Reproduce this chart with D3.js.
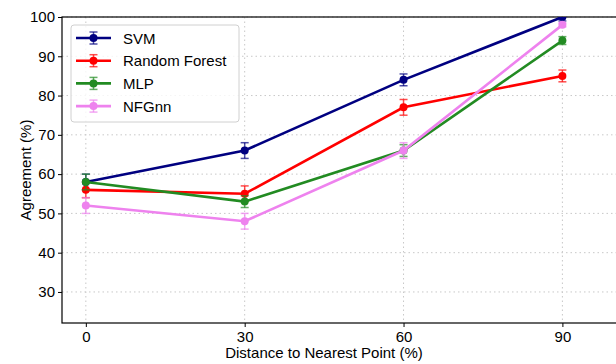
<!DOCTYPE html>
<html>
<head>
<meta charset="utf-8">
<script src="https://cdn.jsdelivr.net/npm/d3@7"></script>
<style>
  body { margin: 0; background: #fff; }
  svg { font-family: "Liberation Sans", Arial, sans-serif; }
</style>
</head>
<body>
<div id="chart"></div>
<script>
const distances = [0, 30, 60, 90];
const xTicks = [0, 30, 60, 90];
const yTicks = [30, 40, 50, 60, 70, 80, 90, 100];

const seriesNames = ["SVM", "Random Forest", "MLP", "NFGnn"];
const seriesColors = ["#000080", "#ff0000", "#228b22", "#ee82ee"];
const svmValues = [58, 66, 84, 100];
const svmErrors = [2, 2, 1.5, 1];
const rfValues = [56, 55, 77, 85];
const rfErrors = [2, 2, 2, 1.5];
const mlpValues = [58, 53, 66, 94];
const mlpErrors = [2, 1.5, 1.5, 1];
const nfgnnValues = [52, 48, 66, 98];
const nfgnnErrors = [2, 2, 2, 0.5];

const series = [
  { name: seriesNames[0], color: seriesColors[0], values: svmValues, errors: svmErrors },
  { name: seriesNames[1], color: seriesColors[1], values: rfValues, errors: rfErrors },
  { name: seriesNames[2], color: seriesColors[2], values: mlpValues, errors: mlpErrors },
  { name: seriesNames[3], color: seriesColors[3], values: nfgnnValues, errors: nfgnnErrors }
];

const W = 616, H = 364;
const pLeft = 62, pRight = 618, pTop = 17, pBottom = 323;

const svg = d3.select("#chart").append("svg")
  .attr("width", W).attr("height", H);

const x = d3.scaleLinear().domain([-4.5, 100.5]).range([pLeft, pRight]);
const y = d3.scaleLinear().domain([22.1, 100]).range([pBottom, pTop]);

svg.append("defs").append("clipPath").attr("id", "clip")
  .append("rect").attr("x", pLeft).attr("y", pTop)
  .attr("width", pRight - pLeft).attr("height", pBottom - pTop);

// grid
const grid = svg.append("g");
grid.selectAll(".gx").data(xTicks).enter().append("line")
  .attr("x1", d => x(d)).attr("x2", d => x(d))
  .attr("y1", pTop).attr("y2", pBottom)
  .attr("stroke", "#c8c8c8").attr("stroke-width", 1).attr("stroke-dasharray", "1.5,3");
grid.selectAll(".gy").data(yTicks).enter().append("line")
  .attr("x1", pLeft).attr("x2", pRight)
  .attr("y1", d => y(d)).attr("y2", d => y(d))
  .attr("stroke", "#c8c8c8").attr("stroke-width", 1).attr("stroke-dasharray", "1.5,3");

// axes
const xAxis = svg.append("g")
  .attr("transform", `translate(0,${pBottom})`)
  .call(d3.axisBottom(x).tickValues(xTicks).tickSize(4).tickPadding(4));
const yAxis = svg.append("g")
  .attr("transform", `translate(${pLeft},0)`)
  .call(d3.axisLeft(y).tickValues(yTicks).tickSize(4).tickPadding(3));
[xAxis, yAxis].forEach(a => {
  a.select(".domain").remove();
  a.selectAll("text").style("font-size", "15px").attr("fill", "#000")
    .style("font-family", "'Liberation Sans', Arial, sans-serif");
  a.selectAll("line").attr("stroke", "#000");
});

svg.append("rect")
  .attr("x", pLeft).attr("y", pTop)
  .attr("width", pRight - pLeft).attr("height", pBottom - pTop)
  .attr("fill", "none").attr("stroke", "#000").attr("stroke-width", 1.2);

// series
const plot = svg.append("g").attr("clip-path", "url(#clip)");
const line = d3.line().x((d, i) => x(distances[i])).y(d => y(d));

series.forEach(s => {
  const g = plot.append("g");
  g.append("path").datum(s.values)
    .attr("d", line).attr("fill", "none")
    .attr("stroke", s.color).attr("stroke-width", 2.6);
  const eb = g.append("g").attr("stroke", s.color).attr("stroke-opacity", 0.7).attr("stroke-width", 1.5);
  s.values.forEach((v, i) => {
    const cx = x(distances[i]);
    eb.append("line").attr("x1", cx).attr("x2", cx)
      .attr("y1", y(v - s.errors[i])).attr("y2", y(v + s.errors[i]));
    [v - s.errors[i], v + s.errors[i]].forEach(e => {
      eb.append("line").attr("x1", cx - 4).attr("x2", cx + 4)
        .attr("y1", y(e)).attr("y2", y(e));
    });
  });
  g.selectAll("circle").data(s.values).enter().append("circle")
    .attr("cx", (d, i) => x(distances[i])).attr("cy", d => y(d))
    .attr("r", 4).attr("fill", s.color);
});

// labels
svg.append("text")
  .attr("x", 324).attr("y", 358)
  .attr("text-anchor", "middle").style("font-size", "15px")
  .text("Distance to Nearest Point (%)");
svg.append("text")
  .attr("transform", `translate(30.5,${(pTop + pBottom) / 2}) rotate(-90)`)
  .attr("text-anchor", "middle").style("font-size", "15px")
  .text("Agreement (%)");

// legend
const legend = svg.append("g").attr("transform", "translate(71,25)");
legend.append("rect")
  .attr("width", 168).attr("height", 97).attr("rx", 3)
  .attr("fill", "#fff").attr("fill-opacity", 0.8)
  .attr("stroke", "#d0d0d0").attr("stroke-width", 1);
series.forEach((s, i) => {
  const ly = 13 + i * 22.7;
  const row = legend.append("g").attr("transform", `translate(0,${ly})`);
  row.append("line").attr("x1", 5).attr("x2", 40).attr("y1", 0).attr("y2", 0)
    .attr("stroke", s.color).attr("stroke-width", 2.6);
  row.append("line").attr("x1", 22.5).attr("x2", 22.5).attr("y1", -6).attr("y2", 6)
    .attr("stroke", s.color).attr("stroke-opacity", 0.7).attr("stroke-width", 1.5);
  [-6, 6].forEach(e => row.append("line").attr("x1", 18.5).attr("x2", 26.5)
    .attr("y1", e).attr("y2", e)
    .attr("stroke", s.color).attr("stroke-opacity", 0.7).attr("stroke-width", 1.5));
  row.append("circle").attr("cx", 22.5).attr("cy", 0).attr("r", 4).attr("fill", s.color);
  row.append("text").attr("x", 52).attr("y", 5.5)
    .style("font-size", "15px").text(s.name);
});
</script>
</body>
</html>
